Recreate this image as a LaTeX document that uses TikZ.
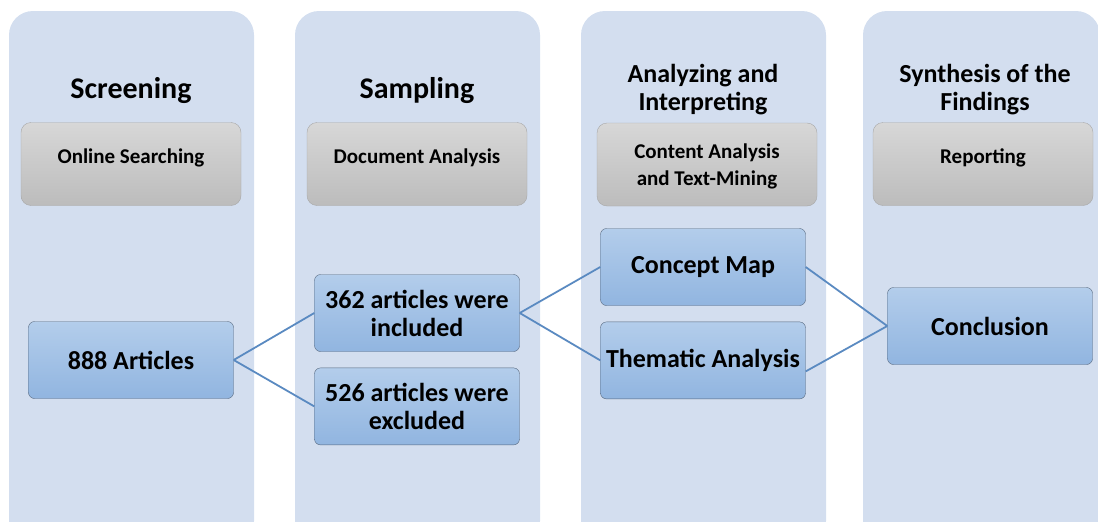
\documentclass[tikz,border=0pt]{standalone}
\usepackage{fontspec}
\setmainfont{Carlito}
\usetikzlibrary{positioning}

\definecolor{lanebg}{HTML}{D3DEEF}
\definecolor{graytop}{HTML}{D7D7D7}
\definecolor{graybot}{HTML}{BCBCBC}
\definecolor{grayline}{HTML}{A8A8A8}
\definecolor{bluetop}{HTML}{B3CDEB}
\definecolor{bluebot}{HTML}{91B5E0}
\definecolor{blueline}{HTML}{56677D}
\definecolor{linkblue}{HTML}{5A8AC1}

\begin{document}
\begin{tikzpicture}[x=1pt, y=-1pt,
    lane/.style={fill=lanebg, rounded corners=24pt},
    bigtitle/.style={font=\bfseries\fontsize{30}{32}\selectfont, align=center},
    title/.style={font=\bfseries\fontsize{26}{28}\selectfont, align=center},
    tool/.style={draw=grayline, top color=graytop, bottom color=graybot, rounded corners=10pt,
        minimum width=220pt, minimum height=83pt, align=center,
        font=\bfseries\fontsize{21}{27}\selectfont},
    oneline/.style={text depth=15pt},
    result/.style={draw=blueline, top color=bluetop, bottom color=bluebot, rounded corners=6pt,
        minimum width=205pt, minimum height=77pt, align=center,
        font=\bfseries\fontsize{26}{28}\selectfont},
    link/.style={draw=linkblue, line width=1.8pt}]

        \useasboundingbox (0,0) rectangle (1098,522);

        % Lanes
        \begin{scope}
        \clip (0,0) rectangle (1098,522);
        \fill[lane] (9,11) rectangle (254,545);
        \fill[lane] (295,11) rectangle (540,545);
        \fill[lane] (581,11) rectangle (826,545);
        \fill[lane] (863,11) rectangle (1100,545);
        \end{scope}

        % Headings
        \node[bigtitle] (screen) at (131,91) {Screening};
        \node[bigtitle] (sample) at (417,91) {Sampling};
        \node[title] (analyze) at (703,90) {Analyzing and\\Interpreting};
        \node[title] (synth) at (985,90) {Synthesis of the\\Findings};

        % Methods
        \node[tool, oneline] (online) at (131,164) {Online Searching};
        \node[tool, oneline] (docana) at (417,164) {Document Analysis};
        \node[tool, text depth=0pt] (content) at (707,164.5) {Content Analysis\\and Text-Mining};
        \node[tool, oneline] (report) at (983,164) {Reporting};

        % Results
        \node[result] (total) at (131,360) {888 Articles};
        \node[result] (incl) at (417,313) {362 articles were\\included};
        \node[result, below=16pt of incl] (excl) {526 articles were\\excluded};
        \node[result] (cmap) at (703,267) {Concept Map};
        \node[result, below=16pt of cmap] (theme) {Thematic Analysis};
        \node[result] (concl) at (990,326) {Conclusion};

        % Links
        \draw[link] (total.east) -- (incl.west);
        \draw[link] (total.east) -- (excl.west);
        \draw[link] (incl.east) -- (cmap.west);
        \draw[link] (incl.east) -- (theme.west);
        \draw[link] (cmap.east) -- (concl.west);
        \draw[link] ([yshift=-11pt]theme.east) -- (concl.west);

\end{tikzpicture}
\end{document}
